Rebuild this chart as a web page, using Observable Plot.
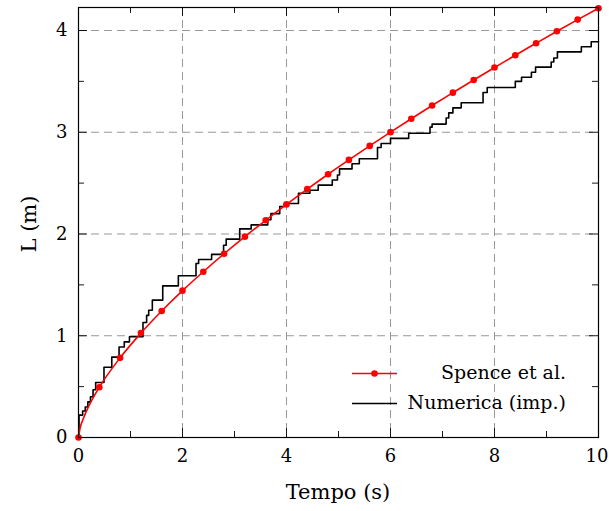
<!DOCTYPE html>
<html><head><meta charset="utf-8">
<script src="https://cdn.jsdelivr.net/npm/d3@7"></script>
<script src="https://cdn.jsdelivr.net/npm/@observablehq/plot@0.6"></script>
<style>body{margin:0;background:#fff} svg text{font-family:'DejaVu Serif',serif !important;}</style>
</head><body><div id="chart"></div>
<script>
// Spence et al. (markers)
const spenceT = [0,0.4,0.8,1.2,1.6,2.0,2.4,2.8,3.2,3.6,4.0,4.4,4.8,5.2,5.6,6.0,6.4,6.8,7.2,7.6,8.0,8.4,8.8,9.2,9.6,10];
const spenceL = [0,0.494,0.783,1.026,1.243,1.443,1.629,1.806,1.974,2.135,2.291,2.441,2.587,2.728,2.866,3.001,3.133,3.263,3.389,3.514,3.636,3.757,3.875,3.992,4.107,4.219];
// extra readings of the smooth red curve near the origin
const spenceNearT = [0.03,0.1,0.2];
const spenceNearL = [0.09,0.195,0.31];
// Numerica (imp.) step series
const numT = [0,0.01,0.08,0.13,0.18,0.23,0.28,0.33,0.49,0.64,0.78,0.88,0.98,1.24,1.31,1.35,1.42,1.62,1.92,2.26,2.31,2.56,2.79,2.84,3.10,3.32,3.64,3.70,3.87,3.96,4.23,4.45,4.61,4.88,4.98,5.02,5.26,5.40,5.75,5.82,6.0,6.35,6.76,6.80,7.07,7.12,7.20,7.36,7.78,7.86,8.40,8.52,8.71,8.79,9.09,9.14,9.21,9.67,9.86,10];
const numL = [0,0.22,0.26,0.30,0.35,0.40,0.47,0.54,0.69,0.79,0.89,0.94,0.99,1.13,1.20,1.25,1.35,1.49,1.59,1.71,1.75,1.80,1.89,1.95,2.05,2.09,2.14,2.20,2.27,2.30,2.40,2.43,2.48,2.53,2.58,2.64,2.69,2.74,2.85,2.89,2.94,2.99,3.05,3.08,3.14,3.19,3.24,3.29,3.39,3.44,3.50,3.54,3.59,3.64,3.69,3.73,3.79,3.84,3.89,3.89];
// ticks
const xTicks = [0,2,4,6,8,10];
const xMinor = [1,3,5,7,9];
const yTicks = [0,1,2,3,4];
const yMinor = [0.5,1.5,2.5,3.5];
const seriesNames = ["Spence et al.","Numerica (imp.)"];
const xLabel = "Tempo (s)";
const yLabel = "L (m)";

const spence = spenceT.map((t,i)=>({t, L: spenceL[i]}));
const spenceLine = spence.concat(spenceNearT.map((t,i)=>({t, L: spenceNearL[i]}))).sort((a,b)=>a.t-b.t);
const num = numT.map((t,i)=>({t, L: numL[i]}));

const W = 609, H = 511, mL = 78, mR = 11, mT = 7, mB = 74;
const fw = W - mL - mR, fh = H - mT - mB;
const FONT = "'DejaVu Serif',serif";
const FS = 19;

const plot = Plot.plot({
  width: W, height: H,
  marginLeft: mL, marginRight: mR, marginTop: mT, marginBottom: mB,
  style: {fontFamily: FONT, fontSize: FS + "px", color: "black", background: "white"},
  x: {domain: [0,10], label: null},
  y: {domain: [0,4.226], label: null},
  marks: [
    Plot.gridX(xTicks.filter(d=>d>0&&d<10), {stroke:"#999", strokeOpacity:1, strokeWidth:1, strokeDasharray:"8,5"}),
    Plot.gridY(yTicks.filter(d=>d>0), {stroke:"#999", strokeOpacity:1, strokeWidth:1, strokeDasharray:"8,5"}),
    Plot.tickX(xTicks, {x:d=>d, insetTop: fh-9, stroke:"black", strokeWidth:0.9}),
    Plot.tickX(xTicks, {x:d=>d, insetBottom: fh-9, stroke:"black", strokeWidth:0.9}),
    Plot.tickX(xMinor, {x:d=>d, insetTop: fh-6, stroke:"black", strokeWidth:0.9}),
    Plot.tickX(xMinor, {x:d=>d, insetBottom: fh-6, stroke:"black", strokeWidth:0.9}),
    Plot.tickY(yTicks, {y:d=>d, insetRight: fw-9, stroke:"black", strokeWidth:0.9}),
    Plot.tickY(yTicks, {y:d=>d, insetLeft: fw-9, stroke:"black", strokeWidth:0.9}),
    Plot.tickY(yMinor, {y:d=>d, insetRight: fw-6, stroke:"black", strokeWidth:0.9}),
    Plot.tickY(yMinor, {y:d=>d, insetLeft: fw-6, stroke:"black", strokeWidth:0.9}),
    Plot.line(num, {x:"t", y:"L", curve:"step-after", stroke:"black", strokeWidth:1.6}),
    Plot.line(spenceLine, {x:"t", y:"L", curve:"monotone-x", stroke:"#ff0000", strokeWidth:1.6}),
    Plot.dot(spence, {x:"t", y:"L", r:3.3, fill:"#ff0000", stroke:"none"}),
    Plot.frame({stroke:"black", strokeWidth:1.2}),
    Plot.axisX(xTicks, {tickSize:0, tickPadding:12, label:null, tickFormat: d=>String(d)}),
    Plot.axisY(yTicks, {tickSize:0, tickPadding:11, label:null, tickFormat: d=>String(d)})
  ]
});
document.getElementById("chart").appendChild(plot);

const svg = d3.select(plot);
// tick label size; keep the last x label inside the picture
svg.selectAll("g[aria-label='x-axis tick label'], g[aria-label='y-axis tick label']").attr("font-size", 18);
svg.selectAll("g[aria-label='x-axis tick label'] text")
  .filter(function(){ return this.textContent === "10"; })
  .attr("text-anchor", "end")
  .attr("x", 10);

const g = svg.append("g").attr("font-size", 21).attr("fill","black");
g.append("text").attr("x", mL + fw/2).attr("y", 499).attr("text-anchor","middle").text(xLabel);
g.append("text").attr("transform","translate(36,224) rotate(-90)").attr("text-anchor","middle").text(yLabel);
// legend
const lg = svg.append("g");
lg.append("line").attr("x1",352).attr("x2",397).attr("y1",373.5).attr("y2",373.5).attr("stroke","#ff0000").attr("stroke-width",1.6);
lg.append("circle").attr("cx",374.5).attr("cy",373.5).attr("r",3.3).attr("fill","#ff0000");
lg.append("line").attr("x1",352).attr("x2",397).attr("y1",403.5).attr("y2",403.5).attr("stroke","black").attr("stroke-width",1.6);
lg.append("text").attr("x",566).attr("y",379).attr("text-anchor","end").attr("font-size",FS).text(seriesNames[0]);
lg.append("text").attr("x",566).attr("y",409).attr("text-anchor","end").attr("font-size",FS).text(seriesNames[1]);
</script>
</body></html>
